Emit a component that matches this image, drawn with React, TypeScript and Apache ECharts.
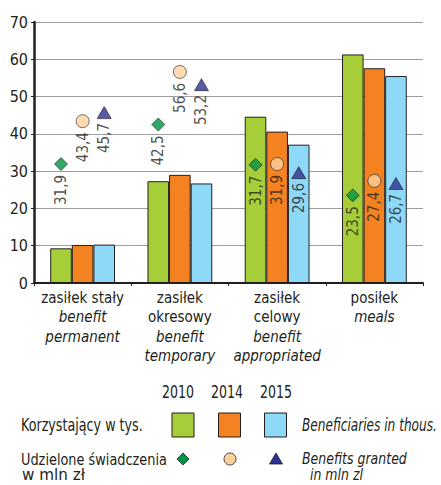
import React, { useEffect, useRef } from "react";
import * as echarts from "echarts";

const categories = [
  ["zasiłek stały", "benefit", "permanent"],
  ["zasiłek", "okresowy", "benefit", "temporary"],
  ["zasiłek", "celowy", "benefit", "appropriated"],
  ["posiłek", "meals"],
];
const italicFrom = [1, 2, 2, 1];
const years = ["2010", "2014", "2015"];
const beneficiaries2010 = [9.3, 27.3, 44.6, 61.3];
const beneficiaries2014 = [10.2, 29.0, 40.6, 57.6];
const beneficiaries2015 = [10.3, 26.7, 37.1, 55.5];
const granted2010 = [31.9, 42.5, 31.7, 23.5];
const granted2014 = [43.4, 56.6, 31.9, 27.4];
const granted2015 = [45.7, 53.2, 29.6, 26.7];
const yTicks = [0, 10, 20, 30, 40, 50, 60, 70];

const FONT = "'DejaVu Sans Condensed', 'Liberation Sans Narrow', 'Liberation Sans', sans-serif";
const DARK = "#231f20";
const barColors = ["#a6ce39", "#f58220", "#8ed8f8"];
const markColors = ["#009444", "#fdd19f", "#2e3192"];
const markSymbols = ["diamond", "circle", "triangle"];
const markSizes: any[] = [13, 13, [14, 12]];

export default function App() {
  const ref = useRef<HTMLDivElement>(null);
  useEffect(() => {
    const chart = echarts.init(ref.current!, undefined, { renderer: "svg" });
    const canvas = document.createElement("canvas");
    const ctx = canvas.getContext("2d")!;
    const measure = (text: string, font: string) => {
      ctx.font = font;
      return ctx.measureText(text).width;
    };

    const barW = 21.6;
    const barData = [beneficiaries2010, beneficiaries2014, beneficiaries2015];
    const markData = [granted2010, granted2014, granted2015];
    const series: any[] = [];
    barData.forEach((d, i) => {
      series.push({
        type: "bar",
        name: years[i],
        data: d,
        barWidth: barW,
        barGap: "0%",
        itemStyle: { color: barColors[i], borderColor: DARK, borderWidth: 1 },
        z: 2,
      });
    });
    markData.forEach((d, i) => {
      series.push({
        type: "scatter",
        name: "g" + years[i],
        data: d,
        symbol: markSymbols[i],
        symbolSize: markSizes[i],
        symbolOffset: [(i - 1) * barW, 0],
        itemStyle: { color: markColors[i], borderColor: DARK, borderWidth: 0.8 },
        z: 5,
        label: {
          show: true,
          position: "bottom",
          rotate: 90,
          align: "right",
          verticalAlign: "middle",
          distance: 4,
          fontFamily: FONT,
          fontSize: 15,
          color: DARK,
          formatter: (p: any) => String(p.value).replace(".", ","),
        },
      });
    });

    const legendY1 = 393;
    const legendY2 = 425;
    const legendY3 = 459;
    const legendY4 = 475;
    const yearX = [178, 227, 276];
    const boxX = [183, 229.5, 275.5];
    const markX = [183, 230, 276];
    const graphic: any[] = [];

    const txt = (
      text: string,
      x: number,
      y: number,
      targetW: number,
      italic = false,
      align = "left",
      size = 17
    ) => {
      const font = `${italic ? "italic " : ""}${size}px ${FONT}`;
      const w = measure(text, font);
      return {
        type: "text",
        x,
        y,
        scaleX: w > 0 ? targetW / w : 1,
        style: { text, font, fill: DARK, align, verticalAlign: "middle" },
      };
    };

    years.forEach((y, i) => {
      graphic.push(txt(y, yearX[i], legendY1, 32, false, "center"));
      graphic.push({
        type: "rect",
        shape: { x: boxX[i] - 11, y: legendY2 - 12, width: 22, height: 24 },
        style: { fill: barColors[i], stroke: DARK, lineWidth: 1 },
      });
    });
    graphic.push({
      type: "polygon",
      shape: { points: [[markX[0], legendY3 - 6], [markX[0] + 6, legendY3], [markX[0], legendY3 + 6], [markX[0] - 6, legendY3]] },
      style: { fill: markColors[0], stroke: DARK, lineWidth: 0.8 },
    });
    graphic.push({
      type: "circle",
      shape: { cx: markX[1], cy: legendY3, r: 6 },
      style: { fill: markColors[1], stroke: DARK, lineWidth: 0.8 },
    });
    graphic.push({
      type: "polygon",
      shape: { points: [[markX[2], legendY3 - 6], [markX[2] + 6.5, legendY3 + 5], [markX[2] - 6.5, legendY3 + 5]] },
      style: { fill: markColors[2], stroke: DARK, lineWidth: 0.8 },
    });
    graphic.push(txt("Korzystający w tys.", 21, legendY2, 122));
    graphic.push(txt("Beneficiaries in thous.", 302, legendY2, 135, true));
    graphic.push(txt("Udzielone świadczenia", 21, legendY3, 146, false, "left", 15));
    graphic.push(txt("w mln zł", 22, legendY4, 63, false, "left", 15));
    graphic.push(txt("Benefits granted", 302, legendY3, 105, true, "left", 15));
    graphic.push(txt("in mln zl", 310, legendY4, 53, true, "left", 15));

    chart.setOption({
      animation: false,
      grid: { left: 34, right: 18, top: 22, bottom: 202, containLabel: false },
      xAxis: {
        type: "category",
        data: categories.map((c) => c.join("|")),
        axisLine: { lineStyle: { color: DARK, width: 2 } },
        axisTick: { show: true, length: 3, lineStyle: { color: DARK, width: 1 } },
        axisLabel: {
          margin: 5,
          interval: 0,
          formatter: (v: string, idx: number) => {
            const parts = v.split("|");
            return parts
              .map((p, k) => (k >= italicFrom[idx] ? `{i|${p}}` : `{n|${p}}`))
              .join("\n");
          },
          rich: {
            n: { fontFamily: FONT, fontSize: 15, color: DARK, lineHeight: 19.5 },
            i: { fontFamily: FONT, fontSize: 15, color: DARK, lineHeight: 19.5, fontStyle: "italic" },
          },
        },
      },
      yAxis: {
        type: "value",
        min: yTicks[0],
        max: yTicks[yTicks.length - 1],
        interval: 10,
        axisLine: { show: true, lineStyle: { color: DARK, width: 2.5 } },
        axisTick: { show: true, length: 3, lineStyle: { color: DARK, width: 1 } },
        axisLabel: { fontFamily: FONT, fontSize: 16, color: DARK, margin: 6 },
        splitLine: { lineStyle: { color: "#9d9d9d", width: 1 } },
      },
      series,
      graphic,
    });
    return () => chart.dispose();
  }, []);
  return <div ref={ref} style={{ width: 441, height: 485, position: "absolute", left: 0, top: 0 }} />;
}
